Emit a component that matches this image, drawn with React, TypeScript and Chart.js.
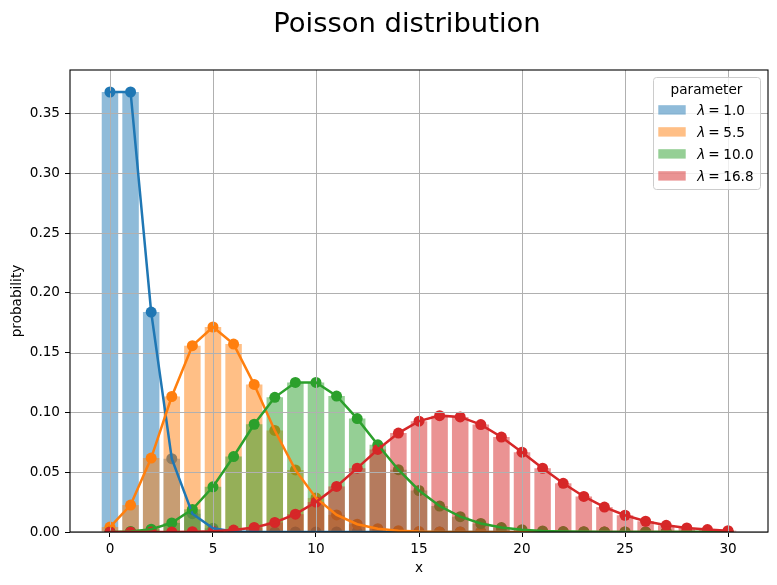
import React, { useEffect, useRef } from 'react';
import { Chart, registerables } from 'chart.js';

Chart.register(...registerables);

// x values (k) and Poisson probabilities
const xValues = [0, 1, 2, 3, 4, 5, 6, 7, 8, 9, 10, 11, 12, 13, 14, 15, 16, 17, 18, 19, 20, 21, 22, 23, 24, 25, 26, 27, 28, 29, 30];
const lambdaLabels = ['1.0', '5.5', '10.0', '16.8'];

const pmfLambda1 = [0.3679, 0.3679, 0.1839, 0.0613, 0.0153, 0.0031, 0.0005, 0.0001, 0, 0, 0, 0, 0, 0, 0, 0, 0, 0, 0, 0, 0, 0, 0, 0, 0, 0, 0, 0, 0, 0, 0];
const pmfLambda55 = [0.0041, 0.0225, 0.0618, 0.1133, 0.1558, 0.1714, 0.1571, 0.1234, 0.0849, 0.0519, 0.0285, 0.0143, 0.0065, 0.0028, 0.0011, 0.0004, 0.0001, 0, 0, 0, 0, 0, 0, 0, 0, 0, 0, 0, 0, 0, 0];
const pmfLambda10 = [0.0000, 0.0005, 0.0023, 0.0076, 0.0189, 0.0378, 0.0631, 0.0901, 0.1126, 0.1251, 0.1251, 0.1137, 0.0948, 0.0729, 0.0521, 0.0347, 0.0217, 0.0128, 0.0071, 0.0037, 0.0019, 0.0009, 0.0004, 0.0002, 0.0001, 0, 0, 0, 0, 0, 0];
const pmfLambda168 = [0.0000, 0.0000, 0.0000, 0.0000, 0.0002, 0.0006, 0.0016, 0.0038, 0.0080, 0.0149, 0.0250, 0.0381, 0.0534, 0.0690, 0.0827, 0.0927, 0.0973, 0.0962, 0.0898, 0.0794, 0.0667, 0.0533, 0.0407, 0.0297, 0.0208, 0.0140, 0.0090, 0.0056, 0.0034, 0.0020, 0.0011];

const xTicks = [0, 5, 10, 15, 20, 25, 30];
const yTicks = [0, 0.05, 0.1, 0.15, 0.2, 0.25, 0.3, 0.35];

const series = [pmfLambda1, pmfLambda55, pmfLambda10, pmfLambda168];
const colors = ['#1f77b4', '#ff7f0e', '#2ca02c', '#d62728'];
const barColors = ['rgba(31,119,180,0.5)', 'rgba(255,127,14,0.5)', 'rgba(44,160,44,0.5)', 'rgba(214,39,40,0.5)'];

const FONT = 'DejaVu Sans';
const TICK_SIZE = 13.6;

const toPoints = (vals: number[]) => xValues.map((x, i) => ({ x, y: vals[i] }));

// grid goes above bars but under the curves, frame/title/legend on top
const overlayPlugin = {
    id: 'overlay',
    beforeDatasetDraw(chart: any, args: any) {
        if (args.index !== series.length * 2) return;
        const { ctx, chartArea: a, scales } = chart;
        ctx.save();
        ctx.strokeStyle = '#b0b0b0';
        ctx.lineWidth = 1;
        ctx.beginPath();
        xTicks.forEach((v) => {
            const px = Math.round(scales.x.getPixelForValue(v)) + 0.5;
            ctx.moveTo(px, a.top);
            ctx.lineTo(px, a.bottom);
        });
        yTicks.forEach((v) => {
            const py = Math.round(scales.y.getPixelForValue(v)) + 0.5;
            ctx.moveTo(a.left, py);
            ctx.lineTo(a.right, py);
        });
        ctx.stroke();
        ctx.restore();
    },
    afterDraw(chart: any) {
        const { ctx, chartArea: a } = chart;
        ctx.save();

        // frame
        ctx.strokeStyle = '#000';
        ctx.lineWidth = 1.1;
        ctx.strokeRect(a.left, a.top, a.right - a.left, a.bottom - a.top);

        // title
        ctx.fillStyle = '#000';
        ctx.textAlign = 'center';
        ctx.textBaseline = 'alphabetic';
        ctx.font = `27.4px ${FONT}`;
        ctx.fillText('Poisson distribution', 407, 32);

        // axis labels
        ctx.font = `${TICK_SIZE}px ${FONT}`;
        ctx.fillText('x', (a.left + a.right) / 2, 571.5);
        ctx.save();
        ctx.translate(20.5, (a.top + a.bottom) / 2);
        ctx.rotate(-Math.PI / 2);
        ctx.fillText('probability', 0, 0);
        ctx.restore();

        // legend
        const lx = 653.5, ly = 77.5, lw = 107, lh = 112;
        ctx.beginPath();
        ctx.roundRect(lx, ly, lw, lh, 3);
        ctx.fillStyle = 'rgba(255,255,255,0.8)';
        ctx.fill();
        ctx.strokeStyle = '#cccccc';
        ctx.lineWidth = 1;
        ctx.stroke();

        ctx.fillStyle = '#000';
        ctx.textAlign = 'center';
        ctx.fillText('parameter', 706.5, 93.5);

        ctx.textAlign = 'left';
        lambdaLabels.forEach((lab, i) => {
            const base = 114.5 + i * 22;
            ctx.fillStyle = barColors[i];
            ctx.fillRect(658.3, base - 9.3, 27.4, 9.4);
            ctx.fillStyle = '#000';
            ctx.font = `italic ${TICK_SIZE}px ${FONT}`;
            ctx.fillText('λ', 697.3, base);
            ctx.font = `${TICK_SIZE}px ${FONT}`;
            ctx.fillText('=', 708.3, base);
            ctx.fillText(lab, 723.3, base);
        });

        ctx.restore();
    },
};

const PoissonChart: React.FC = () => {
    const canvasRef = useRef<HTMLCanvasElement>(null);
    const chartRef = useRef<Chart | null>(null);

    useEffect(() => {
        document.body.style.margin = '0';
        if (!canvasRef.current) return;
        const ctx = canvasRef.current.getContext('2d');
        if (!ctx) return;
        if (chartRef.current) chartRef.current.destroy();

        const n = series.length;
        const bars = series.map((vals, i) => ({
            type: 'bar' as const,
            data: toPoints(vals),
            backgroundColor: barColors[i],
            borderWidth: 0,
            grouped: false,
            barPercentage: 0.8,
            categoryPercentage: 1.0,
            order: 12 - i * 2,
        }));
        const markers = series.map((vals, i) => ({
            type: 'line' as const,
            data: toPoints(vals),
            showLine: false,
            pointRadius: 5.5,
            pointBackgroundColor: colors[i],
            pointBorderWidth: 0,
            borderColor: colors[i],
            clip: 0,
            order: 11 - i * 2,
        }));
        const curves = series.map((vals, i) => ({
            type: 'line' as const,
            data: toPoints(vals),
            borderColor: colors[i],
            borderWidth: 2.5,
            pointRadius: 0,
            tension: 0,
            fill: false,
            clip: 0,
            order: n - i,
        }));

        chartRef.current = new Chart(ctx, {
            type: 'bar',
            data: { datasets: [...bars, ...markers, ...curves] as any },
            options: {
                responsive: true,
                maintainAspectRatio: false,
                animation: false,
                events: [],
                layout: { padding: { top: 70, right: 9, left: 0, bottom: 0 } },
                plugins: {
                    legend: { display: false },
                    tooltip: { enabled: false },
                },
                scales: {
                    x: {
                        type: 'linear',
                        min: -1.94,
                        max: 31.94,
                        offset: false,
                        border: { display: false },
                        grid: { drawOnChartArea: false, offset: false, tickLength: 5, tickColor: '#000', tickWidth: 1 },
                        ticks: {
                            color: '#000',
                            padding: 4,
                            maxRotation: 0,
                            font: { family: FONT, size: TICK_SIZE },
                            callback: (v: any) => String(v),
                        },
                        afterBuildTicks: (scale: any) => {
                            scale.ticks = xTicks.map((v) => ({ value: v }));
                        },
                        afterFit: (scale: any) => {
                            scale.height = 53;
                        },
                    },
                    y: {
                        type: 'linear',
                        min: 0,
                        max: 0.3863,
                        border: { display: false },
                        grid: { drawOnChartArea: false, tickLength: 5, tickColor: '#000', tickWidth: 1 },
                        ticks: {
                            color: '#000',
                            padding: 5,
                            font: { family: FONT, size: TICK_SIZE },
                            callback: (v: any) => Number(v).toFixed(2),
                        },
                        afterBuildTicks: (scale: any) => {
                            scale.ticks = yTicks.map((v) => ({ value: v }));
                        },
                        afterFit: (scale: any) => {
                            scale.width = 70;
                        },
                    },
                },
            },
            plugins: [overlayPlugin],
        });

        return () => {
            if (chartRef.current) chartRef.current.destroy();
            chartRef.current = null;
        };
    }, []);

    return (
        <div style={{ position: 'relative', width: 777, height: 585, background: '#fff' }}>
            <canvas ref={canvasRef}></canvas>
        </div>
    );
};

export default function App() {
    return <PoissonChart />;
}
